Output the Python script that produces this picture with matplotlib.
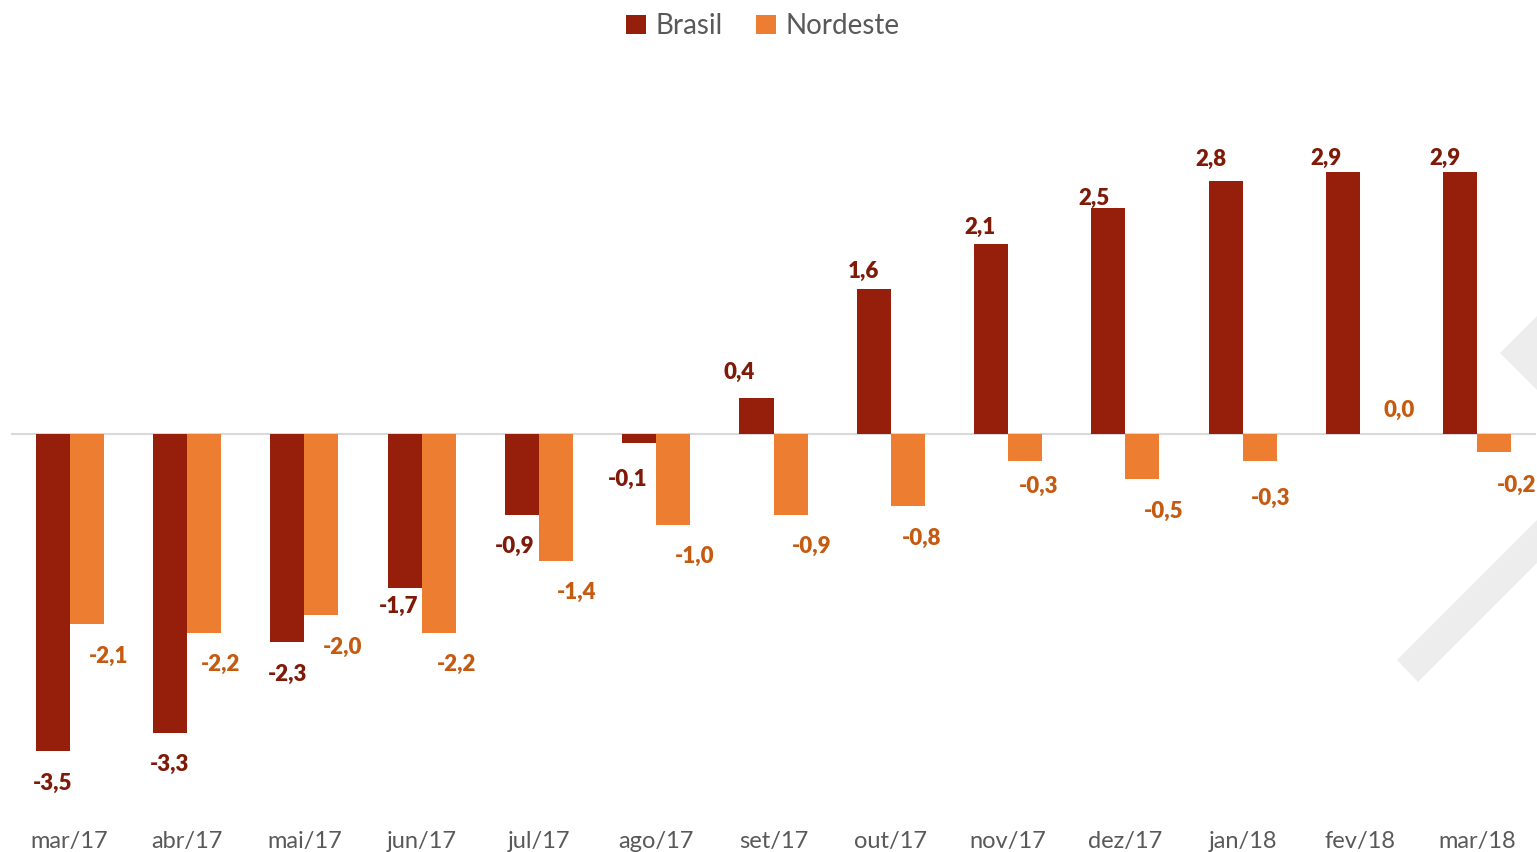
import numpy as np
import matplotlib.pyplot as plt
from matplotlib.patches import Polygon

# dados
meses = ["mar/17", "abr/17", "mai/17", "jun/17", "jul/17", "ago/17", "set/17",
         "out/17", "nov/17", "dez/17", "jan/18", "fev/18", "mar/18"]
brasil = [-3.5, -3.3, -2.3, -1.7, -0.9, -0.1, 0.4, 1.6, 2.1, 2.5, 2.8, 2.9, 2.9]
nordeste = [-2.1, -2.2, -2.0, -2.2, -1.4, -1.0, -0.9, -0.8, -0.3, -0.5, -0.3, 0.0, -0.2]

# deslocamento dos rótulos (pixels) em relação à ponta da barra
off_brasil = [(0, -33), (0, -32), (0, -32), (-6, -19), (-7, -31), (-11, -36), (-17, 25),
              (-10, 18), (-11, 17), (-14, 9), (-15, 21), (-17, 13), (-15, 13)]
off_nordeste = [(22, -32), (17, -31), (21, -32), (18, -31), (21, -32), (21, -32), (21, -31),
                (14, -32), (14, -25), (21, -32), (11, -37), (22, 24), (22, -33)]

COR_BR = "#961F0B"
COR_NE = "#ED7D31"
TXT_BR = "#7F1A09"
TXT_NE = "#C55A11"

plt.rcParams['font.family'] = ['Lato', 'DejaVu Sans']

W, H = 1537, 852
fig = plt.figure(figsize=(W / 100, H / 100), dpi=100)

# marca d'agua cinza na borda direita
def px(pts):
    return [(x, H - y) for x, y in pts]

for pts in ([(1537, 316), (1500, 353), (1537, 390)],
            [(1397, 660), (1537, 520), (1537, 563), (1418, 682)]):
    fig.patches.append(Polygon(px(pts), closed=True, transform=None,
                               facecolor="#EDEDED", edgecolor="none", zorder=-1))

# eixo: esquerda 11px, direita 1536px, topo 60px, base 820px
left, right, top, bottom = 11, 1536, 60, 820
ax = fig.add_axes([left / W, 1 - bottom / H, (right - left) / W, (bottom - top) / H])
ax.patch.set_visible(False)

escala = 90.5  # px por unidade
ax.set_ylim(-(bottom - 434) / escala, (434 - top) / escala)
ax.set_xlim(-0.5, len(meses) - 0.5)

x = np.arange(len(meses))
w = 0.29
b1 = ax.bar(x - w / 2, brasil, w, color=COR_BR, label="Brasil", zorder=2)
b2 = ax.bar(x + w / 2, nordeste, w, color=COR_NE, label="Nordeste", zorder=2)
ax.axhline(0, color="#D9D9D9", lw=1.5, zorder=1)

for rects, vals, offs, cor in ((b1, brasil, off_brasil, TXT_BR),
                               (b2, nordeste, off_nordeste, TXT_NE)):
    for r, v, (dx, dy) in zip(rects, vals, offs):
        xc = r.get_x() + r.get_width() / 2
        ax.annotate(f"{v:.1f}".replace(".", ","), (xc, v), xytext=(dx, dy),
                    textcoords="offset pixels", ha="center", va="center",
                    fontsize=16, fontweight="heavy", color=cor)

ax.set_xticks(x)
ax.set_xticklabels(meses, fontsize=17, color="#595959")
ax.tick_params(axis="x", length=0, pad=8)
ax.set_yticks([])
for s in ax.spines.values():
    s.set_visible(False)

fig.legend(handles=[b1, b2], loc="center", bbox_to_anchor=(763 / W, 1 - 26 / H),
           ncol=2, frameon=False, fontsize=20, labelcolor="#595959",
           handlelength=0.7, handleheight=0.7, handletextpad=0.35, columnspacing=1.2)

fig.savefig("out.png", dpi=100)
